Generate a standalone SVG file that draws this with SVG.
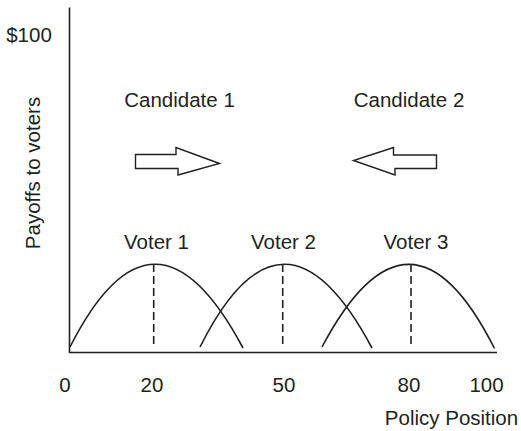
<svg xmlns="http://www.w3.org/2000/svg" width="521" height="431" viewBox="0 0 521 431">
<style>
text{font-family:"Liberation Sans",Arial,sans-serif;font-size:20.5px;fill:#231f20;text-anchor:middle}
.ax{stroke:#231f20;stroke-width:1.6;fill:none}
.cv{stroke:#231f20;stroke-width:1.6;fill:none}
.ds{stroke:#231f20;stroke-width:1.6;stroke-dasharray:8 4;fill:none}
.ar{stroke:#231f20;stroke-width:1.4;fill:#fff;stroke-linejoin:miter}
</style>
<rect width="521" height="431" fill="#fff"/>
<g id="axes">
<path class="ax" d="M69.5 7.5V352.5H497"/>
<text x="29" y="41.5">$100</text>
<text transform="translate(39.5 173) rotate(-90)">Payoffs to voters</text>
<text x="65" y="392">0</text>
<text x="152" y="392">20</text>
<text x="284" y="392">50</text>
<text x="409" y="392">80</text>
<text x="486.5" y="392">100</text>
<text x="451.5" y="425">Policy Position</text>
</g>
<g id="candidate1">
<text x="179.5" y="106.5">Candidate 1</text>
<path class="ar" d="M135.5 154.5H176V147.5L219.5 163.5L178 175V168.5H135.5Z"/>
</g>
<g id="candidate2">
<text x="409" y="106.5">Candidate 2</text>
<path class="ar" d="M436.5 155H393.5V147.5L353.5 160.5L395 175V168.5H436.5Z"/>
</g>
<g id="voter1">
<text x="156.5" y="249">Voter 1</text>
<path class="cv" d="M70 347Q154 181 243 348"/>
<path class="ds" d="M153.7 264V346"/>
</g>
<g id="voter2">
<text x="283.5" y="249">Voter 2</text>
<path class="cv" d="M200 347Q283 181 372 348"/>
<path class="ds" d="M282.7 264V346"/>
</g>
<g id="voter3">
<text x="416" y="249">Voter 3</text>
<path class="cv" d="M322 347Q410 181 494.5 348.5"/>
<path class="ds" d="M411 264V346"/>
</g>
<g id="connectors"></g>
</svg>
